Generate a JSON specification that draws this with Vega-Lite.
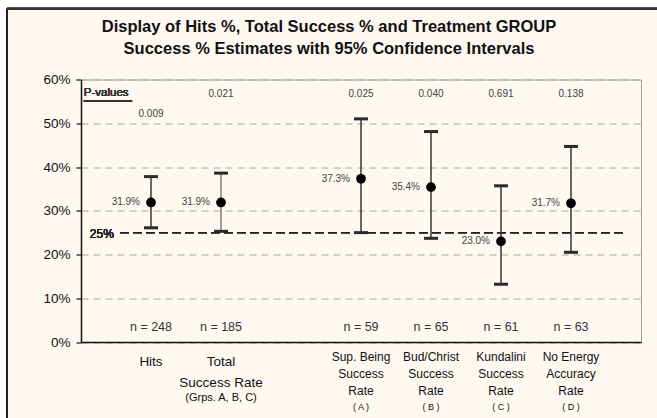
{
  "$schema": "https://vega.github.io/schema/vega-lite/v6.json",
  "width": 560,
  "height": 262.5,
  "autosize": {"type": "none"},
  "padding": {"left": 81, "top": 79.5, "right": 16, "bottom": 76},
  "background": "#FEF8F1",
  "config": {
    "font": "Liberation Sans",
    "view": {"stroke": "#A0A0A0", "strokeWidth": 1}
  },
  "title": {
    "text": ["Display of Hits %, Total Success % and Treatment GROUP", "Success % Estimates with 95% Confidence Intervals"],
    "fontSize": 16.5,
    "fontWeight": "bold",
    "font": "Liberation Sans",
    "color": "#111111",
    "lineHeight": 22.6,
    "anchor": "middle",
    "baseline": "bottom",
    "dx": -32,
    "offset": 0,
    "dy": 82
  },
  "data": {
    "values": [
      {"slot": 1, "group": "Hits", "est": 31.9, "lo": 26.1, "hi": 37.8, "n": "n = 248", "p": "0.009", "lines": ["Hits"], "sub": ""},
      {"slot": 2, "group": "Total Success Rate", "est": 31.9, "lo": 25.3, "hi": 38.6, "n": "n = 185", "p": "0.021", "lines": ["Total", "Success Rate"], "sub": "(Grps. A, B, C)"},
      {"slot": 4, "group": "Sup. Being Success Rate", "est": 37.3, "lo": 25.0, "hi": 51.0, "n": "n = 59", "p": "0.025", "lines": ["Sup. Being", "Success", "Rate"], "sub": "( A )"},
      {"slot": 5, "group": "Bud/Christ Success Rate", "est": 35.4, "lo": 23.7, "hi": 48.1, "n": "n = 65", "p": "0.040", "lines": ["Bud/Christ", "Success", "Rate"], "sub": "( B )"},
      {"slot": 6, "group": "Kundalini Success Rate", "est": 23.0, "lo": 13.2, "hi": 35.7, "n": "n = 61", "p": "0.691", "lines": ["Kundalini", "Success", "Rate"], "sub": "( C )"},
      {"slot": 7, "group": "No Energy Accuracy Rate", "est": 31.7, "lo": 20.5, "hi": 44.7, "n": "n = 63", "p": "0.138", "lines": ["No Energy", "Accuracy", "Rate"], "sub": "( D )"}
    ]
  },
  "encoding": {
    "x": {"field": "slot", "type": "quantitative", "scale": {"domain": [0, 8], "nice": false, "zero": false},
      "axis": {"title": null, "labels": false, "ticks": false, "grid": false, "domainColor": "#111111", "domainWidth": 1.5}},
    "y": {"field": "est", "type": "quantitative", "scale": {"domain": [0, 60], "nice": false},
      "axis": {"title": null, "values": [0, 10, 20, 30, 40, 50, 60], "labelExpr": "datum.value + '%'",
        "labelFont": "Liberation Sans", "labelFontSize": 13.5, "labelColor": "#111111", "labelPadding": 6,
        "tickSize": 5, "tickColor": "#111111", "tickWidth": 1.2, "domainColor": "#111111", "domainWidth": 1.5,
        "grid": true, "gridColor": "#A8A8A8", "gridDash": [7, 5], "gridWidth": 1}}
  },
  "layer": [
    {"mark": {"type": "rect", "fill": "white", "clip": false},
      "encoding": {"x": {"datum": -1.3}, "x2": {"datum": -1.057}, "y": {"datum": -40}, "y2": {"datum": 80}}},
    {"mark": {"type": "rect", "fill": "white", "clip": false},
      "encoding": {"x": {"datum": -1.3}, "x2": {"datum": 9.5}, "y": {"datum": 76.2}, "y2": {"datum": 80}}},
    {"mark": {"type": "rule", "color": "#222222", "strokeWidth": 1.6},
      "encoding": {"x": {"datum": -1.057}, "y": {"datum": -40}, "y2": {"datum": 76.2}}},
    {"mark": {"type": "rule", "color": "#333333", "strokeWidth": 1.6},
      "encoding": {"x": {"datum": -1.057}, "x2": {"datum": 9.5}, "y": {"datum": 76.2}}},
    {"mark": {"type": "rule", "color": "#222222", "strokeWidth": 1.2, "strokeDash": [9, 4]},
      "encoding": {"x": {"datum": 0.557}, "x2": {"datum": 7.8}, "y": {"datum": 25}}},
    {"mark": {"type": "text", "align": "right", "baseline": "middle", "fontSize": 12, "fill": "#222222", "text": "25%"},
      "encoding": {"x": {"datum": 0.47}, "y": {"datum": 24.6}}},
    {"mark": {"type": "rule", "strokeWidth": 1.4},
      "encoding": {"y": {"field": "lo"}, "y2": {"field": "hi"},
        "color": {"condition": {"test": "datum.slot == 2", "value": "#777777"}, "value": "#2A2A2A"}}},
    {"mark": {"type": "tick", "orient": "horizontal", "size": 14, "thickness": 3, "color": "#2A2A2A", "opacity": 1},
      "encoding": {"y": {"field": "lo"}}},
    {"mark": {"type": "tick", "orient": "horizontal", "size": 14, "thickness": 3, "color": "#2A2A2A", "opacity": 1},
      "encoding": {"y": {"field": "hi"}}},
    {"mark": {"type": "point", "filled": true, "shape": "circle", "size": 95, "color": "#000000", "opacity": 1},
      "encoding": {"y": {"field": "est"}}},
    {"transform": [{"calculate": "format(datum.est, '.1f') + '%'", "as": "estLabel"}],
      "mark": {"type": "text", "align": "right", "baseline": "middle", "dx": -11, "fontSize": 10, "fill": "#444444"},
      "encoding": {"y": {"field": "est"}, "text": {"field": "estLabel"}}},
    {"mark": {"type": "text", "align": "center", "baseline": "middle", "fontSize": 12.5, "fill": "#333333"},
      "encoding": {"y": {"datum": 3.4}, "text": {"field": "n"}}},
    {"transform": [{"filter": "datum.slot == 1"}],
      "mark": {"type": "text", "align": "center", "baseline": "middle", "fontSize": 10, "fill": "#444444"},
      "encoding": {"y": {"datum": 52.1}, "text": {"field": "p"}}},
    {"transform": [{"filter": "datum.slot != 1"}],
      "mark": {"type": "text", "align": "center", "baseline": "middle", "fontSize": 10, "fill": "#444444"},
      "encoding": {"y": {"datum": 56.7}, "text": {"field": "p"}}},
    {"mark": {"type": "text", "align": "left", "baseline": "middle", "fontSize": 11.5, "fill": "#333333", "text": "P-values"},
      "encoding": {"x": {"datum": 0.04}, "y": {"datum": 57.0}}},
    {"mark": {"type": "rule", "color": "#333333", "strokeWidth": 1.5},
      "encoding": {"x": {"datum": 0.04}, "x2": {"datum": 0.73}, "y": {"datum": 55.1}}},
    {"transform": [{"filter": "datum.slot <= 2"}],
      "mark": {"type": "text", "align": "center", "baseline": "top", "fontSize": 13.5, "lineHeight": 21, "fill": "#111111"},
      "encoding": {"y": {"datum": -3.0}, "text": {"field": "lines"}}},
    {"transform": [{"filter": "datum.slot > 2"}],
      "mark": {"type": "text", "align": "center", "baseline": "top", "fontSize": 12, "lineHeight": 17, "fill": "#111111"},
      "encoding": {"y": {"datum": -2.3}, "text": {"field": "lines"}}},
    {"transform": [{"filter": "datum.slot == 2"}],
      "mark": {"type": "text", "align": "center", "baseline": "middle", "fontSize": 11, "fill": "#111111"},
      "encoding": {"y": {"datum": -12.8}, "text": {"field": "sub"}}},
    {"transform": [{"filter": "datum.slot > 2"}],
      "mark": {"type": "text", "align": "center", "baseline": "middle", "fontSize": 9, "fill": "#111111"},
      "encoding": {"y": {"datum": -14.9}, "text": {"field": "sub"}}}
  ]
}
